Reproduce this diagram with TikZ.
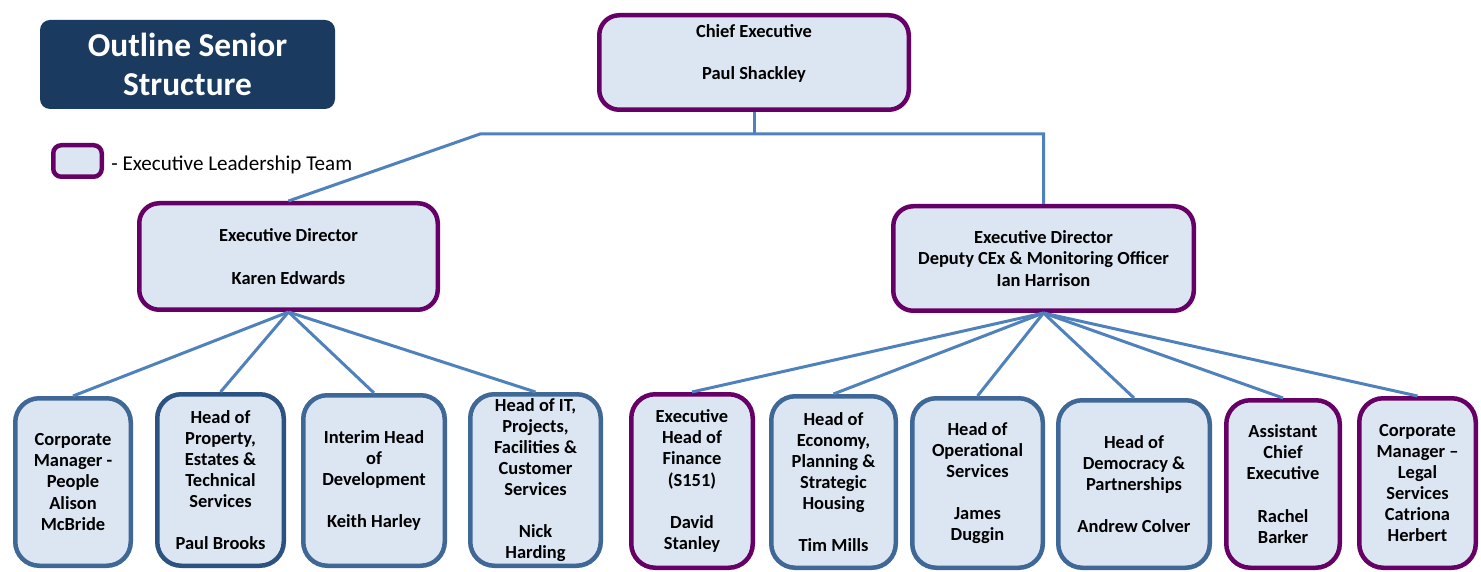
\documentclass[tikz,border=0pt]{standalone}
\usepackage{fontspec}
\setmainfont{Carlito}
\usepackage{xcolor}
\usetikzlibrary{positioning}

\definecolor{navy}{HTML}{1B3A5F}
\definecolor{eltpurple}{HTML}{660066}
\definecolor{steel}{HTML}{3F6896}
\definecolor{darksteel}{HTML}{2C5282}
\definecolor{paleblue}{HTML}{DCE6F2}
\definecolor{linkblue}{HTML}{4F81BD}

\begin{document}
\begin{tikzpicture}[
    % Styles
    role/.style={rectangle, rounded corners=0.4cm, fill=paleblue, line width=0.09cm, inner sep=0pt, align=center, font=\fontsize{10.5}{12}\selectfont\bfseries},
    execbox/.style={role, draw=eltpurple},
    headbox/.style={role, draw=steel, rounded corners=0.48cm},
    elthead/.style={role, draw=eltpurple, rounded corners=0.48cm},
    titlebox/.style={rectangle, rounded corners=0.2cm, fill=navy, text=white, align=center, minimum width=5.9cm, minimum height=1.78cm, font=\fontsize{19}{22}\selectfont\bfseries},
    link/.style={draw=linkblue, line width=0.06cm}
]
    \useasboundingbox (0,0) rectangle (29.62,-11.44);

    % --- Title and key ---
    \node[titlebox] (title) at (3.75, -1.29) {Outline Senior\\Structure};
    \node[role, draw=eltpurple, rounded corners=0.16cm, minimum width=0.97cm, minimum height=0.63cm] (key) at (1.55, -3.22) {};
    \node[right=0.14cm of key, yshift=-0.07cm, inner sep=0pt, font=\fontsize{12}{14}\selectfont] (keytext) {- Executive Leadership Team};

    % --- Top tier ---
    \node[execbox, minimum width=6.19cm, minimum height=1.89cm] (chief) at (15.08, -1.25) {Chief Executive\\[12pt]Paul Shackley\\\mbox{}};

    % --- Executive directors ---
    \node[execbox, minimum width=5.97cm, minimum height=2.13cm] (karen) at (5.77, -5.13) {Executive Director\\[12pt]Karen Edwards};
    \node[execbox, minimum width=6.01cm, minimum height=2.09cm] (ian) at (20.87, -5.17) {Executive Director\\Deputy CEx \& Monitoring Officer\\Ian Harrison};

    % Bus from the chief executive
    \coordinate (busL) at (9.6, -2.68);
    \coordinate (busR) at (ian.north |- busL);
    \draw[link] (chief.south) -- (chief.south |- busL);
    \draw[link] (karen.north) -- (busL) -- (busR) -- (ian.north);

    % --- Heads of service under Karen Edwards ---
    \node[headbox, minimum width=2.31cm, minimum height=3.35cm] (people) at (1.46, -9.64) {Corporate\\Manager -\\People\\Alison\\McBride};
    \node[headbox, draw=darksteel, minimum width=2.53cm, minimum height=3.43cm] (property) at (4.41, -9.60) {Head of\\Property,\\Estates \&\\Technical\\Services\\[12pt]Paul Brooks};
    \node[headbox, minimum width=2.83cm, minimum height=3.41cm] (develop) at (7.48, -9.61) {Interim Head\\of\\Development\\[12pt]Keith Harley};
    \node[headbox, minimum width=2.61cm, minimum height=3.43cm] (itserv) at (10.71, -9.60) {Head of IT,\\Projects,\\Facilities \&\\Customer\\Services\\[12pt]Nick\\Harding};

    % --- Heads of service under Ian Harrison ---
    \node[elthead, minimum width=2.43cm, minimum height=3.47cm] (finance) at (13.84, -9.62) {Executive\\Head of\\Finance\\(S151)\\[12pt]David\\Stanley};
    \node[headbox, minimum width=2.49cm, minimum height=3.43cm] (economy) at (16.67, -9.64) {Head of\\Economy,\\Planning \&\\Strategic\\Housing\\[12pt]Tim Mills};
    \node[headbox, minimum width=2.61cm, minimum height=3.39cm] (operations) at (19.55, -9.66) {Head of\\Operational\\Services\\[12pt]James\\Duggin};
    \node[headbox, minimum width=3.03cm, minimum height=3.35cm] (democracy) at (22.68, -9.68) {Head of\\Democracy \&\\Partnerships\\[12pt]Andrew Colver};
    \node[elthead, minimum width=2.27cm, minimum height=3.35cm] (assistant) at (25.66, -9.68) {Assistant\\Chief\\Executive\\[12pt]Rachel\\Barker};
    \node[elthead, minimum width=2.33cm, minimum height=3.39cm] (legal) at (28.35, -9.66) {Corporate\\Manager --\\Legal\\Services\\Catriona\\Herbert};

    % Connections to the directors
    \draw[link] (karen.south) -- (people.north);
    \draw[link] (karen.south) -- (property.north);
    \draw[link] (karen.south) -- (develop.north);
    \draw[link] (karen.south) -- (itserv.north);
    \draw[link] (ian.south) -- (finance.north);
    \draw[link] (ian.south) -- (economy.north);
    \draw[link] (ian.south) -- (operations.north);
    \draw[link] (ian.south) -- (democracy.north);
    \draw[link] (ian.south) -- (assistant.north);
    \draw[link] (ian.south) -- (legal.north);

\end{tikzpicture}
\end{document}
